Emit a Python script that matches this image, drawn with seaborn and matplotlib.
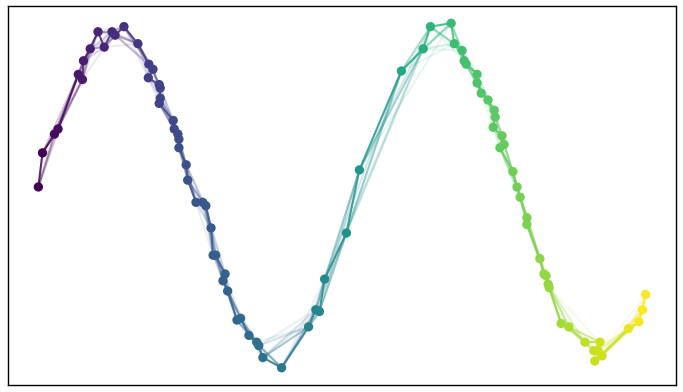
import numpy as np
import pandas as pd
import matplotlib
matplotlib.use("Agg")
import matplotlib.pyplot as plt
from matplotlib.collections import LineCollection
import seaborn as sns

x = [0.00, 0.08, 0.31, 0.38, 0.77, 0.85, 0.87, 1.00, 1.15, 1.27, 1.42, 1.48, 1.65, 1.92,
     2.13, 2.21, 2.12, 2.33, 2.35, 2.35, 2.33, 2.60, 2.62, 2.69, 2.71, 2.71, 2.85, 2.88,
     3.04, 3.17, 3.23, 3.33, 3.37, 3.42, 3.60, 3.56, 3.65, 3.83, 3.90, 4.06, 4.21, 4.25,
     4.33, 4.69, 5.21, 5.35, 5.42, 5.52, 5.94, 6.19, 7.00, 7.42, 7.56, 7.96, 8.02, 8.17,
     8.21, 8.25, 8.46, 8.46, 8.54, 8.67, 8.79, 8.81, 8.77, 8.94, 8.98, 8.90, 9.15, 9.23,
     9.29, 9.42, 9.42, 9.67, 9.75, 9.79, 9.83, 9.85, 10.08, 10.23, 10.54, 10.83, 10.71,
     10.79, 10.87, 10.73, 11.38, 11.58, 11.65, 11.71]
y = [0.05, 0.25, 0.36, 0.39, 0.71, 0.68, 0.79, 0.86, 0.96, 0.87, 0.96, 0.94, 0.99, 0.89,
     0.77, 0.74, 0.69, 0.65, 0.63, 0.57, 0.54, 0.44, 0.39, 0.36, 0.33, 0.28, 0.18, 0.09,
     -0.04, -0.04, -0.06, -0.19, -0.35, -0.35, -0.46, -0.50, -0.56, -0.73, -0.72, -0.82,
     -0.86, -0.88, -0.95, -1.01, -0.77, -0.67, -0.68, -0.49, -0.22, 0.15, 0.73, 0.86, 0.99,
     1.01, 0.89, 0.85, 0.79, 0.77, 0.71, 0.66, 0.60, 0.56, 0.50, 0.46, 0.40, 0.35, 0.30,
     0.28, 0.14, 0.05, -0.01, -0.13, -0.17, -0.37, -0.46, -0.47, -0.52, -0.54, -0.75,
     -0.77, -0.86, -0.86, -0.91, -0.91, -0.94, -0.97, -0.78, -0.74, -0.67, -0.58]

# edge opacity for links to the 1st..4th following point
neighbor_alpha = [0.85, 0.4, 0.2, 0.1]

df = pd.DataFrame({"x": x, "y": y})
n = len(df)

sns.set_style("white")
fig = plt.figure(figsize=(6.83, 3.92), dpi=100)
ax = fig.add_axes([8 / 683, 1 - 385 / 392, 668 / 683, 379 / 392])

cmap = plt.get_cmap("viridis")
xmin, xmax = min(x), max(x)
colors = [cmap((v - xmin) / (xmax - xmin)) for v in x]

segs, cols = [], []
for k, a in reversed(list(enumerate(neighbor_alpha, start=1))):
    for i in range(n - k):
        segs.append([(x[i], y[i]), (x[i + k], y[i + k])])
        c = colors[i]
        cols.append((c[0], c[1], c[2], a))
lc = LineCollection(segs, colors=cols, linewidths=1.5, zorder=1)
ax.add_collection(lc)

sns.scatterplot(data=df, x="x", y="y", hue="x", palette="viridis",
                hue_norm=(xmin, xmax), s=45,
                edgecolor="none", legend=False, ax=ax, zorder=2)

ax.margins(0.05)
ax.set_xticks([])
ax.set_yticks([])
ax.set_xlabel("")
ax.set_ylabel("")
for sp in ax.spines.values():
    sp.set_color("black")
    sp.set_linewidth(1.0)

fig.savefig("out.png", dpi=100)
